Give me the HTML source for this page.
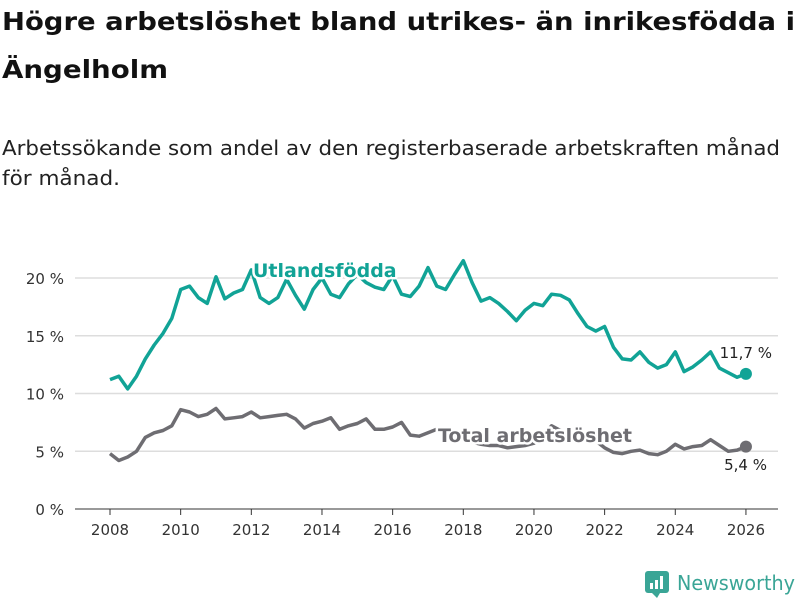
<!DOCTYPE html>
<html><head><meta charset="utf-8"><style>
body{margin:0;background:#fff;}
svg{display:block;font-family:"DejaVu Sans","Liberation Sans",sans-serif;}
.lbl{paint-order:stroke;stroke:#fff;stroke-width:5px;stroke-linejoin:round;}
</style></head><body>
<svg id="chart" width="800" height="600" viewBox="0 0 800 600">
<text x="2" y="30" font-size="25" font-weight="bold" fill="#111" textLength="793" lengthAdjust="spacingAndGlyphs">Högre arbetslöshet bland utrikes- än inrikesfödda i</text>
<text x="2" y="78" font-size="25" font-weight="bold" fill="#111" textLength="166" lengthAdjust="spacingAndGlyphs">Ängelholm</text>
<text x="2" y="155" font-size="20" fill="#222" textLength="778" lengthAdjust="spacingAndGlyphs">Arbetssökande som andel av den registerbaserade arbetskraften månad</text>
<text x="2" y="185" font-size="20" fill="#222" textLength="118" lengthAdjust="spacingAndGlyphs">för månad.</text>
<g id="grid"></g><g id="xaxis"></g><g id="series"></g>
<g>
<rect x="645" y="571" width="24" height="22" rx="3" fill="#3aa596"/>
<path d="M652 593 l5 5 l3 -5z" fill="#3aa596"/>
<rect x="650" y="583" width="3" height="6" fill="#fff"/><rect x="655" y="580" width="3" height="9" fill="#fff"/><rect x="660" y="576" width="3" height="13" fill="#fff"/>
<text x="677" y="590" font-size="20" fill="#3aa596" textLength="118" lengthAdjust="spacingAndGlyphs">Newsworthy</text>
</g>
</svg>
<script>
const yTicks=[0,5,10,15,20];
const yTickLabels=["0 %","5 %","10 %","15 %","20 %"];
const xTicks=[2008,2010,2012,2014,2016,2018,2020,2022,2024,2026];
const foreignTimes=[2008,2008.25,2008.5,2008.75,2009,2009.25,2009.5,2009.75,2010,2010.25,2010.5,2010.75,2011,2011.25,2011.5,2011.75,2012,2012.25,2012.5,2012.75,2013,2013.25,2013.5,2013.75,2014,2014.25,2014.5,2014.75,2015,2015.25,2015.5,2015.75,2016,2016.25,2016.5,2016.75,2017,2017.25,2017.5,2017.75,2018,2018.25,2018.5,2018.75,2019,2019.25,2019.5,2019.75,2020,2020.25,2020.5,2020.75,2021,2021.25,2021.5,2021.75,2022,2022.25,2022.5,2022.75,2023,2023.25,2023.5,2023.75,2024,2024.25,2024.5,2024.75,2025,2025.25,2025.5,2025.75,2026];
const foreignValues=[11.2,11.5,10.4,11.5,13,14.2,15.2,16.5,19.0,19.3,18.3,17.8,20.1,18.2,18.7,19.0,20.7,18.3,17.8,18.3,19.9,18.5,17.3,19.0,20.0,18.6,18.3,19.5,20.3,19.6,19.2,19.0,20.2,18.6,18.4,19.3,20.9,19.3,19.0,20.3,21.5,19.6,18.0,18.3,17.8,17.1,16.3,17.2,17.8,17.6,18.6,18.5,18.1,16.9,15.8,15.4,15.8,14.0,13.0,12.9,13.6,12.7,12.2,12.5,13.6,11.9,12.3,12.9,13.6,12.2,11.8,11.4,11.7];
const totalValues=[4.8,4.2,4.5,5.0,6.2,6.6,6.8,7.2,8.6,8.4,8.0,8.2,8.7,7.8,7.9,8.0,8.4,7.9,8.0,8.1,8.2,7.8,7.0,7.4,7.6,7.9,6.9,7.2,7.4,7.8,6.9,6.9,7.1,7.5,6.4,6.3,6.6,6.9,6.5,6.2,6.0,5.8,5.6,5.5,5.5,5.3,5.4,5.5,5.7,6.3,7.2,6.8,6.5,6.4,6.3,5.9,5.3,4.9,4.8,5.0,5.1,4.8,4.7,5.0,5.6,5.2,5.4,5.5,6.0,5.5,5.0,5.1,5.4];
const NS="http://www.w3.org/2000/svg";
const xS=t=>110+(t-2008)*35.33;
const yS=v=>509-v*11.55;
function mk(tag,attrs,parent){const e=document.createElementNS(NS,tag);for(const k in attrs)e.setAttribute(k,attrs[k]);parent.appendChild(e);return e;}
const grid=document.getElementById('grid'),xa=document.getElementById('xaxis'),ser=document.getElementById('series');
yTicks.forEach((v,i)=>{
 const l=mk('line',{x1:75,x2:778,y1:yS(v),y2:yS(v),stroke:v===0?'#333':'#ddd','stroke-width':v===0?1:1.5},grid);
 
 
 const t=mk('text',{x:64,y:yS(v)+6,'text-anchor':'end','font-size':15,fill:'#333'},grid);
 t.textContent=yTickLabels[i];
 
 
});
xTicks.forEach(y=>{
 mk('line',{x1:xS(y),x2:xS(y),y1:509,y2:515,stroke:'#333'},xa);
 const t=mk('text',{x:xS(y),y:535,'text-anchor':'middle','font-size':15,fill:'#333'},xa);
 t.textContent=y;
 
 
});
function line(vals,color,name){
 const d=vals.map((v,i)=>(i?'L':'M')+xS(foreignTimes[i]).toFixed(1)+' '+yS(v).toFixed(1)).join(' ');
 const p=mk('path',{d:d,fill:'none',stroke:color,'stroke-width':3.5,'stroke-linejoin':'round'},ser);
 
 
 const n=vals.length-1;
 const c=mk('circle',{cx:xS(foreignTimes[n]),cy:yS(vals[n]),r:6,fill:color},ser);
 
 
}
line(foreignValues,'#11a396','foreign-born');
line(totalValues,'#6e6d72','total');
function lab(x,y,txt,col,size,bold,name,anchor){
 const t=mk('text',{x:x,y:y,'font-size':size,fill:col,'font-weight':bold?'bold':'normal','text-anchor':anchor||'start',class:'lbl'},ser);
 t.textContent=txt;
 
 
}
lab(253,277,'Utlandsfödda','#11a396',19,true,'series-label-foreign-born');
lab(438,442,'Total arbetslöshet','#6e6d72',19,true,'series-label-total');
const nF=foreignValues.length-1,nT=totalValues.length-1;
lab(772,358,String(foreignValues[nF]).replace('.',',')+' %','#222',15,false,'end-value-foreign-born','end');
lab(767,470,String(totalValues[nT]).replace('.',',')+' %','#222',15,false,'end-value-total','end');
</script>
</body></html>
